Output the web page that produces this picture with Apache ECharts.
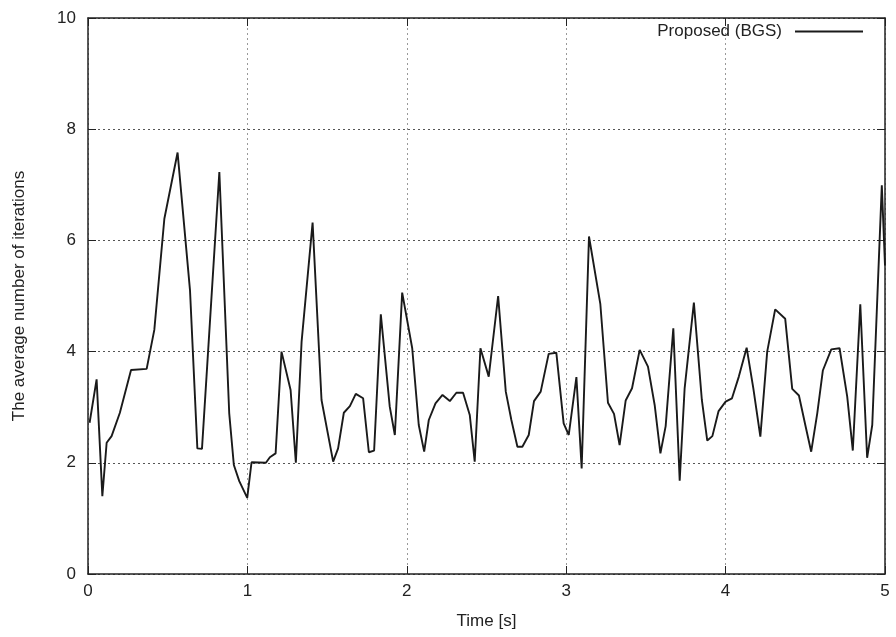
<!DOCTYPE html>
<html>
<head>
<meta charset="utf-8">
<script src="https://cdn.jsdelivr.net/npm/echarts@6/dist/echarts.min.js"></script>
<style>
html,body{margin:0;padding:0;background:#fff;}
#chart{width:896px;height:637px;}
</style>
</head>
<body>
<div id="chart"></div>
<script>
const seriesName = 'Proposed (BGS)';
const timeValues = [0.01,0.054,0.09,0.117,0.148,0.2,0.27,0.368,0.416,0.479,0.562,0.64,0.686,0.715,0.824,0.886,0.915,0.949,0.999,1.026,1.116,1.141,1.177,1.214,1.271,1.304,1.34,1.409,1.465,1.538,1.569,1.605,1.643,1.68,1.726,1.762,1.795,1.837,1.893,1.925,1.971,2.034,2.075,2.109,2.138,2.18,2.224,2.27,2.311,2.353,2.395,2.426,2.462,2.514,2.573,2.621,2.656,2.694,2.725,2.765,2.798,2.84,2.89,2.938,2.984,3.016,3.064,3.097,3.143,3.214,3.262,3.3,3.335,3.373,3.413,3.461,3.513,3.555,3.591,3.624,3.672,3.712,3.743,3.801,3.851,3.885,3.917,3.956,4.0,4.04,4.083,4.132,4.174,4.218,4.261,4.311,4.374,4.418,4.46,4.5,4.537,4.575,4.61,4.663,4.715,4.763,4.798,4.845,4.888,4.92,4.98,5.0];
const iterValues = [2.72,3.5,1.4,2.36,2.48,2.9,3.67,3.69,4.39,6.39,7.58,5.1,2.26,2.25,7.23,2.89,1.96,1.67,1.37,2.01,2.0,2.1,2.17,4.0,3.31,2.0,4.18,6.32,3.13,2.02,2.26,2.9,3.02,3.24,3.16,2.19,2.22,4.67,3.01,2.5,5.06,4.06,2.68,2.2,2.77,3.07,3.22,3.11,3.26,3.26,2.86,2.02,4.06,3.55,5.0,3.28,2.77,2.29,2.29,2.5,3.11,3.28,3.96,3.98,2.71,2.5,3.54,1.9,6.07,4.86,3.08,2.88,2.32,3.12,3.34,4.03,3.73,3.04,2.17,2.66,4.42,1.68,3.34,4.88,3.13,2.4,2.48,2.93,3.1,3.16,3.55,4.07,3.34,2.47,4.0,4.76,4.59,3.33,3.21,2.68,2.2,2.89,3.66,4.04,4.06,3.19,2.22,4.85,2.09,2.68,6.99,5.55];
const xTicks = [0,1,2,3,4,5];
const yTicks = [0,2,4,6,8,10];
const xName = 'Time [s]';
const yName = 'The average number of iterations';

const font = 'Liberation Sans, Arial, Helvetica, sans-serif';
const fs = 17;
const chart = echarts.init(document.getElementById('chart'));
const frameLine = {show:true,onZero:false,lineStyle:{color:'#222',width:1.5}};
const xMain = {
  type:'value', min:xTicks[0], max:xTicks[xTicks.length-1], interval:1,
  name:xName, nameLocation:'middle', nameGap:39,
  nameTextStyle:{fontFamily:font,fontSize:fs,color:'#222'},
  axisLine:frameLine,
  axisTick:{show:true,inside:true,length:8,lineStyle:{color:'#222',width:1}},
  axisLabel:{fontFamily:font,fontSize:fs,color:'#222',margin:9},
  splitLine:{show:true,lineStyle:{color:'#999',type:[2,3],width:1}}
};
const xTop = {
  type:'value', position:'top', min:0, max:5, interval:1,
  axisLine:frameLine,
  axisTick:{show:true,inside:true,length:8,lineStyle:{color:'#222'}},
  axisLabel:{show:false}, splitLine:{show:false}
};
const yMain = {
  type:'value', min:yTicks[0], max:yTicks[yTicks.length-1], interval:2,
  name:yName, nameLocation:'middle', nameGap:60,
  nameTextStyle:{fontFamily:font,fontSize:fs,color:'#222'},
  axisLine:frameLine,
  axisTick:{show:true,inside:true,length:8,lineStyle:{color:'#222'}},
  axisLabel:{fontFamily:font,fontSize:fs,color:'#222',margin:12},
  splitLine:{show:true,lineStyle:{color:'#555',type:[2,3],width:1}}
};
const yRight = {
  type:'value', position:'right', min:0, max:10, interval:2,
  axisLine:frameLine,
  axisTick:{show:true,inside:true,length:8,lineStyle:{color:'#222'}},
  axisLabel:{show:false}, splitLine:{show:false}
};
chart.setOption({
  animation:false,
  backgroundColor:'#fff',
  grid:{left:88,right:11,top:18,bottom:63},
  legend:{
    data:[{name:seriesName,icon:'rect'}], right:33, top:23, padding:0, align:'right',
    itemWidth:68, itemHeight:2,
    itemStyle:{color:'#1a1a1a'},
    textStyle:{fontFamily:font,fontSize:fs,color:'#222',padding:[0,8,0,0]}
  },
  xAxis:[xMain,xTop],
  yAxis:[yMain,yRight],
  series:[{
    name:seriesName, type:'line', xAxisIndex:0, yAxisIndex:0,
    symbol:'none', showSymbol:false,
    lineStyle:{color:'#1a1a1a',width:1.9},
    itemStyle:{color:'#1a1a1a'},
    data:timeValues.map((t,i)=>[t,iterValues[i]])
  }]
});
</script>
</body>
</html>
